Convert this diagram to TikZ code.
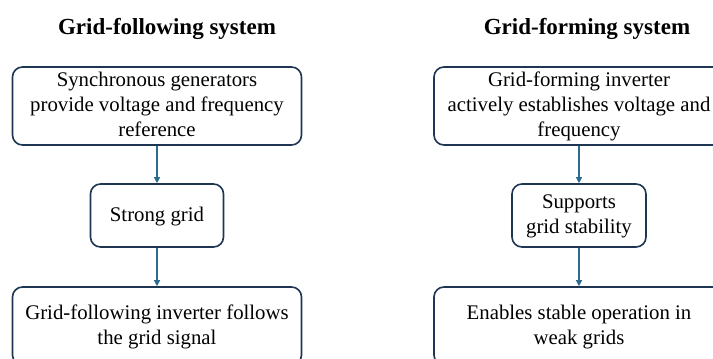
\documentclass[tikz,border=0pt]{standalone}
\usepackage{fontspec}
\setmainfont{Liberation Serif}
\usetikzlibrary{arrows.meta}
\definecolor{boxline}{HTML}{1E3652}
\definecolor{arrowc}{HTML}{2C6B90}
\tikzset{
  flowbox/.style={draw=boxline, line width=1.6pt, rounded corners=10pt, align=center,
    font=\fontsize{20.8}{25}\selectfont, inner sep=2pt, text depth=3pt},
  title/.style={font=\fontsize{23}{27}\selectfont\bfseries},
  flowarrow/.style={draw=arrowc, line width=1.2pt, -{Triangle[length=6pt,width=6pt]}}
}
\begin{document}
\begin{tikzpicture}[x=1pt,y=-1pt]
\useasboundingbox (0,0) rectangle (713,359);
\clip (0,0) rectangle (713,359);
% left column
\node[title] (t1) at (167,29) {Grid-following system};
\node[flowbox, minimum width=289pt, minimum height=78pt] (l1) at (157,106)
  {Synchronous generators\\provide voltage and frequency\\reference};
\node[flowbox, minimum width=133pt, minimum height=63pt] (l2) at (157,215.5) {Strong grid};
\node[flowbox, minimum width=289pt, minimum height=78pt] (l3) at (157,326)
  {Grid-following inverter follows\\the grid signal};
\draw[flowarrow] (l1.south) -- (l2.north);
\draw[flowarrow] (l2.south) -- (l3.north);
% right column
\node[title] (t2) at (587,29) {Grid-forming system};
\node[flowbox, minimum width=290pt, minimum height=78pt] (r1) at (579,106)
  {Grid-forming inverter\\actively establishes voltage and\\frequency};
\node[flowbox, minimum width=134pt, minimum height=63pt] (r2) at (579,215.5) {Supports\\grid stability};
\node[flowbox, minimum width=290pt, minimum height=78pt] (r3) at (579,326)
  {Enables stable operation in\\weak grids};
\draw[flowarrow] (r1.south) -- (r2.north);
\draw[flowarrow] (r2.south) -- (r3.north);
\end{tikzpicture}
\end{document}
